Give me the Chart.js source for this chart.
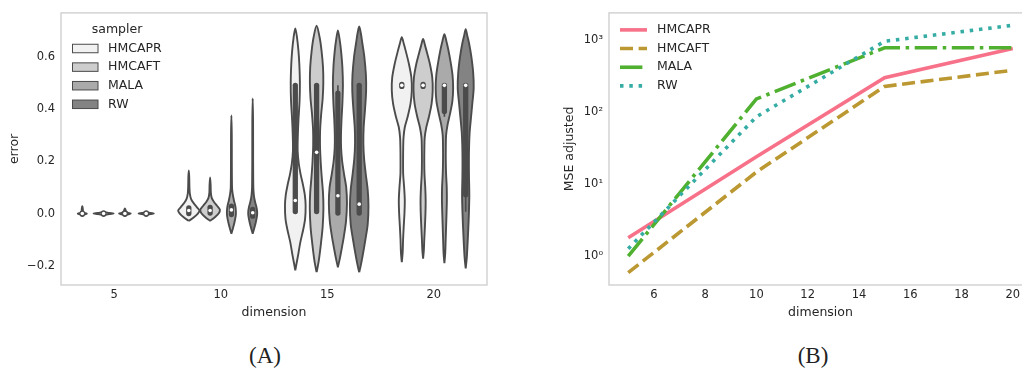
<!DOCTYPE html>
<html><head><meta charset="utf-8">
<script src="https://cdn.jsdelivr.net/npm/chart.js@4.4.0/dist/chart.umd.min.js"></script>
<style>
html,body{margin:0;padding:0;background:#fff;width:1022px;height:378px;overflow:hidden;position:relative}
#a{position:absolute;left:0;top:0}
#b{position:absolute;left:500px;top:0}
.cap{position:absolute;top:343px;font-family:"Liberation Serif",serif;font-size:23px;color:#222;transform:translateX(-50%);white-space:nowrap}
</style></head>
<body>
<canvas id="a" width="500" height="330"></canvas>
<canvas id="b" width="540" height="330"></canvas>
<div class="cap" style="left:265px">(A)</div>
<div class="cap" style="left:813px">(B)</div>
<script>
// ---------- Panel A data ----------
const dimensions = ['5', '10', '15', '20'];
const samplers = ['HMCAPR', 'HMCAFT', 'MALA', 'RW'];
const violinFills = ['#f1f1f1', '#cdcdcd', '#aaaaaa', '#838383'];
const errorTicks = [-0.2, 0, 0.2, 0.4, 0.6];

// violin density profiles: [error, relative half-width], order HMCAPR, HMCAFT, MALA, RW
const violinsDim5 = [
  [[-0.008,0],[-0.003,0.2],[0,0.42],[0.003,0.15],[0.008,0.06],[0.018,0.05],[0.028,0]],
  [[-0.006,0],[-0.002,0.55],[0,0.95],[0.002,0.55],[0.006,0]],
  [[-0.008,0],[-0.003,0.3],[0,0.55],[0.003,0.3],[0.008,0.1],[0.014,0.06],[0.02,0]],
  [[-0.006,0],[-0.002,0.4],[0,0.72],[0.002,0.4],[0.006,0]]
];
const violinsDim10 = [
  [[-0.028,0],[-0.015,0.45],[0,0.85],[0.012,1.0],[0.025,0.75],[0.04,0.45],[0.055,0.22],[0.075,0.1],[0.1,0.06],[0.14,0.04],[0.165,0]],
  [[-0.028,0],[-0.015,0.42],[0,0.8],[0.015,0.92],[0.03,0.65],[0.045,0.35],[0.06,0.15],[0.08,0.07],[0.11,0.05],[0.138,0]],
  [[-0.077,0],[-0.06,0.12],[-0.035,0.28],[-0.01,0.4],[0.01,0.42],[0.03,0.36],[0.05,0.24],[0.075,0.12],[0.1,0.06],[0.2,0.04],[0.3,0.035],[0.375,0]],
  [[-0.077,0],[-0.06,0.12],[-0.035,0.28],[-0.01,0.4],[0.005,0.42],[0.025,0.35],[0.045,0.22],[0.07,0.11],[0.1,0.06],[0.2,0.04],[0.35,0.035],[0.44,0]]
];
const violinsDim15 = [
  [[-0.217,0],[-0.19,0.12],[-0.16,0.26],[-0.11,0.47],[-0.06,0.75],[-0.02,0.92],[0.03,0.97],[0.07,0.9],[0.11,0.72],[0.15,0.5],[0.19,0.33],[0.24,0.22],[0.3,0.24],[0.36,0.3],[0.43,0.4],[0.5,0.43],[0.57,0.38],[0.62,0.3],[0.67,0.17],[0.708,0]],
  [[-0.224,0],[-0.2,0.12],[-0.17,0.24],[-0.11,0.42],[-0.05,0.57],[0.02,0.64],[0.08,0.6],[0.14,0.48],[0.2,0.38],[0.26,0.32],[0.32,0.33],[0.38,0.43],[0.44,0.57],[0.5,0.63],[0.56,0.6],[0.62,0.47],[0.67,0.3],[0.718,0]],
  [[-0.205,0],[-0.18,0.14],[-0.14,0.33],[-0.09,0.55],[-0.03,0.76],[0.04,0.85],[0.1,0.78],[0.15,0.58],[0.2,0.4],[0.25,0.3],[0.3,0.29],[0.36,0.34],[0.42,0.42],[0.49,0.47],[0.56,0.42],[0.62,0.3],[0.66,0.18],[0.70,0]],
  [[-0.224,0],[-0.2,0.14],[-0.16,0.33],[-0.1,0.58],[-0.04,0.8],[0.03,0.87],[0.09,0.8],[0.15,0.62],[0.21,0.46],[0.27,0.39],[0.33,0.42],[0.4,0.55],[0.47,0.65],[0.53,0.63],[0.6,0.48],[0.65,0.3],[0.69,0.15],[0.715,0]]
];
const violinsDim20 = [
  [[-0.186,0],[-0.15,0.08],[-0.1,0.12],[-0.05,0.18],[0.0,0.25],[0.05,0.28],[0.1,0.22],[0.15,0.13],[0.2,0.12],[0.25,0.13],[0.29,0.16],[0.33,0.28],[0.37,0.55],[0.42,0.82],[0.47,0.94],[0.52,0.9],[0.57,0.68],[0.62,0.38],[0.65,0.18],[0.674,0]],
  [[-0.172,0],[-0.14,0.07],[-0.1,0.11],[-0.05,0.17],[0.0,0.22],[0.05,0.24],[0.1,0.2],[0.15,0.13],[0.2,0.11],[0.25,0.12],[0.29,0.15],[0.33,0.3],[0.37,0.55],[0.42,0.8],[0.47,0.9],[0.52,0.86],[0.57,0.65],[0.61,0.4],[0.64,0.2],[0.667,0]],
  [[-0.19,0],[-0.15,0.08],[-0.1,0.12],[-0.05,0.16],[0.0,0.2],[0.05,0.23],[0.1,0.22],[0.15,0.16],[0.2,0.13],[0.25,0.13],[0.3,0.16],[0.34,0.3],[0.38,0.52],[0.43,0.75],[0.48,0.82],[0.53,0.76],[0.58,0.58],[0.63,0.35],[0.66,0.18],[0.686,0]],
  [[-0.21,0],[-0.17,0.1],[-0.12,0.17],[-0.06,0.24],[0.0,0.3],[0.07,0.34],[0.14,0.31],[0.2,0.3],[0.26,0.32],[0.31,0.37],[0.36,0.48],[0.42,0.62],[0.48,0.75],[0.54,0.7],[0.6,0.53],[0.65,0.32],[0.68,0.15],[0.705,0]]
];
// inner boxes: [q1, median, q3, whiskerLow, whiskerHigh]
const boxesDim5 = [[-0.003,0,0.003,-0.003,0.003],[-0.003,0,0.003,-0.003,0.003],[-0.003,0,0.003,-0.003,0.003],[-0.003,0,0.003,-0.003,0.003]];
const boxesDim10 = [[0.0,0.012,0.022,0.0,0.022],[0.002,0.012,0.024,0.002,0.024],[-0.004,0.014,0.028,-0.004,0.028],[-0.01,0.003,0.016,-0.01,0.016]];
const boxesDim15 = [[0.008,0.05,0.49,0.008,0.49],[0.008,0.234,0.49,0.008,0.49],[0.002,0.068,0.46,0.002,0.49],[0.002,0.036,0.49,0.002,0.49]];
const boxesDim20 = [[0.486,0.49,0.494,0.486,0.494],[0.486,0.49,0.494,0.486,0.494],[0.39,0.49,0.49,0.37,0.49],[0.072,0.49,0.49,0.007,0.49]];

// ---------- Panel B data ----------
const mseDims = [5, 10, 15, 20];
const mseHMCAPR = [1.8, 24, 300, 760];
const mseHMCAFT = [0.59, 14.7, 227, 380];
const mseMALA = [1.0, 152, 780, 780];
const mseRW = [1.27, 86, 960, 1600];
const mseTicks = [1, 10, 100, 1000];
const dimTicks = [6, 8, 10, 12, 14, 16, 18, 20];

// ---------- styling ----------
const EDGE = '#4b4b4b';
const TXT = '#262626';
const FONT = 'DejaVu Sans';
const tickFont = {family: FONT, size: 11.5};
const titleFont = {family: FONT, size: 12.5};

const framePlugin = {
  id: 'frame',
  beforeDatasetsDraw(chart) {
    const {ctx, chartArea: a} = chart;
    ctx.save();
    ctx.strokeStyle = '#cccccc';
    ctx.lineWidth = 1.3;
    ctx.strokeRect(a.left, a.top, a.right - a.left, a.bottom - a.top);
    ctx.restore();
  }
};

// ---------- Panel A ----------
const violinGroups = [violinsDim5, violinsDim10, violinsDim15, violinsDim20];
const boxGroups = [boxesDim5, boxesDim10, boxesDim15, boxesDim20];
const dsA = [];
violinGroups.forEach((group, ci) => group.forEach((prof, si) => {
  const cx = ci + (si - 1.5) * 0.2;
  const right = prof.map(([v, w]) => ({x: cx + w * 0.1, y: v}));
  const left = prof.slice(0, -1).reverse().map(([v, w]) => ({x: cx - w * 0.1, y: v}));
  dsA.push({type: 'line', data: right.concat(left), borderColor: EDGE, borderWidth: 1.9,
    backgroundColor: violinFills[si], fill: 'shape', pointRadius: 0, tension: 0.3, order: 5});
}));
boxGroups.forEach((group, ci) => group.forEach(([q1, med, q3, lo, hi], si) => {
  const cx = ci + (si - 1.5) * 0.2;
  dsA.push({type: 'line', data: [{x: cx, y: lo}, {x: cx, y: hi}], borderColor: EDGE, borderWidth: 1.6,
    pointRadius: 0, fill: false, order: 3});
  dsA.push({type: 'line', data: [{x: cx, y: q1}, {x: cx, y: q3}], borderColor: EDGE, borderWidth: 5.3,
    borderCapStyle: 'round', pointRadius: 0, fill: false, order: 2});
  dsA.push({type: 'line', data: [{x: cx, y: med}], showLine: false, pointRadius: 1.8,
    pointBackgroundColor: '#ffffff', pointBorderWidth: 0, order: 1});
}));

const legendA = {
  id: 'legendA',
  afterDraw(chart) {
    const {ctx, chartArea: a} = chart;
    ctx.save();
    ctx.font = '12.5px "' + FONT + '"';
    ctx.fillStyle = TXT;
    ctx.textBaseline = 'middle';
    ctx.textAlign = 'center';
    ctx.fillText('sampler', a.left + 56, a.top + 17);
    ctx.textAlign = 'left';
    samplers.forEach((s, i) => {
      const y = a.top + 35.6 + i * 18.6;
      ctx.fillStyle = violinFills[i];
      ctx.fillRect(a.left + 11.5, y - 4.25, 25.5, 8.5);
      ctx.strokeStyle = EDGE;
      ctx.lineWidth = 1;
      ctx.strokeRect(a.left + 11.5, y - 4.25, 25.5, 8.5);
      ctx.fillStyle = TXT;
      ctx.fillText(s, a.left + 47, y);
    });
    ctx.restore();
  }
};

new Chart(document.getElementById('a'), {
  type: 'line',
  data: {datasets: dsA},
  options: {
    responsive: false, animation: false, devicePixelRatio: 1, events: [],
    layout: {padding: {top: 9, right: 13, left: 0, bottom: 0}},
    plugins: {legend: {display: false}, tooltip: {enabled: false}},
    scales: {
      x: {
        type: 'linear', min: -0.5, max: 3.5,
        grid: {display: false, drawTicks: false}, border: {display: false},
        afterFit: s => { s.height = 45; },
        afterBuildTicks: s => { s.ticks = dimensions.map((d, i) => ({value: i})); },
        ticks: {padding: 3, color: TXT, font: tickFont, callback: v => dimensions[v]},
        title: {display: true, text: 'dimension', color: TXT, font: titleFont, padding: {top: 0, bottom: 10}}
      },
      y: {
        type: 'linear', min: -0.273, max: 0.767,
        grid: {display: false, drawTicks: false}, border: {display: false},
        afterFit: s => { s.width = 61; },
        afterBuildTicks: s => { s.ticks = errorTicks.map(v => ({value: v})); },
        ticks: {padding: 6, color: TXT, font: tickFont,
          callback: v => (v < 0 ? '\u2212' : '') + Math.abs(v).toFixed(1)},
        title: {display: true, text: 'error', color: TXT, font: titleFont, padding: {top: 7, bottom: 0}}
      }
    }
  },
  plugins: [framePlugin, legendA]
});

// ---------- Panel B ----------
const lineSeries = [
  {label: 'HMCAPR', values: mseHMCAPR, color: '#f77189', dash: []},
  {label: 'HMCAFT', values: mseHMCAFT, color: '#bb9832', dash: [13, 5.6]},
  {label: 'MALA', values: mseMALA, color: '#50b131', dash: [22.4, 5.6, 3.5, 5.6]},
  {label: 'RW', values: mseRW, color: '#36ada4', dash: [3.5, 5.8]}
];
const dsB = lineSeries.map((s, i) => ({
  label: s.label,
  data: mseDims.map((d, k) => ({x: d, y: s.values[k]})),
  borderColor: s.color, borderWidth: 3.6, borderDash: s.dash,
  pointRadius: 0, fill: false, tension: 0, order: lineSeries.length - i
}));

const legendB = {
  id: 'legendB',
  afterDraw(chart) {
    const {ctx, chartArea: a} = chart;
    ctx.save();
    ctx.font = '12.5px "' + FONT + '"';
    ctx.textBaseline = 'middle';
    ctx.textAlign = 'left';
    lineSeries.forEach((s, i) => {
      const y = a.top + 17 + i * 18.67;
      ctx.strokeStyle = s.color;
      ctx.lineWidth = 3.6;
      ctx.setLineDash(s.dash);
      ctx.beginPath();
      ctx.moveTo(a.left + 11, y);
      ctx.lineTo(a.left + 38, y);
      ctx.stroke();
      ctx.setLineDash([]);
      ctx.fillStyle = TXT;
      ctx.fillText(s.label, a.left + 48, y);
    });
    ctx.restore();
  }
};

const sup = ['\u2070', '\u00b9', '\u00b2', '\u00b3', '\u2074'];
new Chart(document.getElementById('b'), {
  type: 'line',
  data: {datasets: dsB},
  options: {
    responsive: false, animation: false, devicePixelRatio: 1, events: [],
    layout: {padding: {top: 9, right: 8, left: 0, bottom: 0}},
    plugins: {legend: {display: false}, tooltip: {enabled: false}},
    scales: {
      x: {
        type: 'linear', min: 4.25, max: 20.75,
        grid: {display: false, drawTicks: false}, border: {display: false},
        afterFit: s => { s.height = 45; },
        afterBuildTicks: s => { s.ticks = dimTicks.map(v => ({value: v})); },
        ticks: {padding: 3, color: TXT, font: tickFont},
        title: {display: true, text: 'dimension', color: TXT, font: titleFont, padding: {top: 0, bottom: 10}}
      },
      y: {
        type: 'logarithmic', min: 0.398, max: 2377,
        grid: {display: false, drawTicks: false}, border: {display: false},
        afterFit: s => { s.width = 109; },
        afterBuildTicks: s => { s.ticks = mseTicks.map(v => ({value: v})); },
        ticks: {padding: 6, color: TXT, font: tickFont,
          callback: v => '10' + sup[Math.round(Math.log10(v))]},
        title: {display: true, text: 'MSE adjusted', color: TXT, font: titleFont, padding: {top: 62, bottom: 0}}
      }
    }
  },
  plugins: [framePlugin, legendB]
});
</script>
</body></html>
